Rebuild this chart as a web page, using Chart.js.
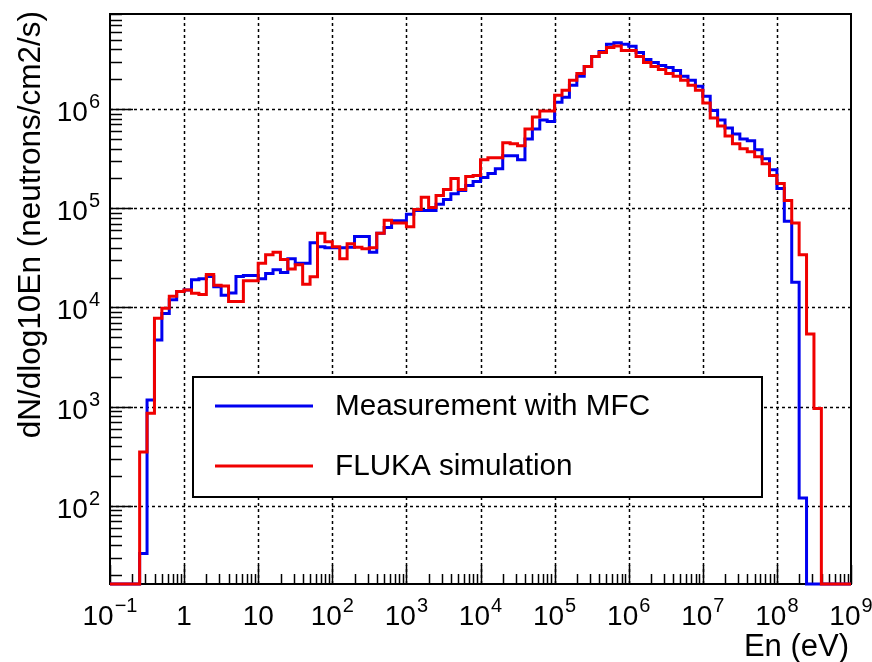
<!DOCTYPE html>
<html>
<head>
<meta charset="utf-8">
<script src="https://cdn.jsdelivr.net/npm/chart.js@4/dist/chart.umd.min.js"></script>
<style>
  html, body { margin: 0; padding: 0; background: #ffffff; }
  #wrap { width: 872px; height: 662px; }
</style>
</head>
<body>
<div id="wrap"><canvas id="c" width="872" height="662"></canvas></div>
<script>
// ---------------- Histogram definition ----------------
const BIN_LOG_MIN = -1;      // first bin low edge: 10^-1 eV
const BIN_LOG_WIDTH = 0.1;   // 10 bins per decade
const N_BINS = 100;          // up to 10^9 eV

// ---------------- Series values (dN/dlog10En, neutrons/cm2/s), one per bin ----------------
const MEASUREMENT_MFC = [
  0, 0, 0, 0, 33, 1170, 4700, 8700, 12000, 14500,
  15000, 19000, 19500, 20500, 16200, 13300, 14000, 20500, 21000, 21000,
  19500, 22000, 24000, 22500, 31000, 28000, 28000, 45000, 41000, 40000,
  40000, 40000, 40500, 52000, 52000, 36000, 56000, 64000, 75000, 75000,
  87000, 95000, 95000, 95000, 110000, 123000, 140000, 151000, 170000, 186000,
  204000, 224000, 251000, 339000, 339000, 309000, 500000, 630000, 776000, 750000,
  1170000, 1320000, 1740000, 2140000, 2690000, 3390000, 3800000, 4500000, 4680000, 4500000,
  4300000, 3720000, 3160000, 2950000, 2750000, 2630000, 2450000, 2140000, 1950000, 1700000,
  1350000, 970000, 776000, 646000, 562000, 500000, 479000, 389000, 316000, 245000,
  158000, 74000, 18000, 120, 0, 0, 0, 0, 0, 0
];
const FLUKA_SIMULATION = [
  0, 0, 0, 0, 350, 860, 7800, 9800, 13000, 14500,
  15000, 13900, 13500, 21500, 16800, 16500, 11500, 11500, 18600, 18600,
  28000, 34000, 36000, 30500, 24500, 27000, 17200, 20400, 56000, 46000,
  41000, 31000, 44000, 40500, 39000, 40000, 56000, 76000, 71000, 71000,
  65000, 97000, 129000, 102000, 135000, 155000, 200000, 155000, 209000, 214000,
  309000, 324000, 324000, 457000, 447000, 427000, 630000, 832000, 955000, 955000,
  1380000, 1550000, 1950000, 2290000, 2690000, 3390000, 3720000, 4170000, 4320000, 3890000,
  3890000, 3390000, 2950000, 2690000, 2510000, 2290000, 2140000, 1950000, 1740000, 1550000,
  1150000, 813000, 676000, 537000, 447000, 398000, 372000, 331000, 282000, 214000,
  178000, 120000, 71000, 34000, 5400, 960, 0, 0, 0, 0
];
const SERIES_NAMES = ['Measurement with MFC', 'FLUKA simulation'];

// ---------------- Axes ----------------
const X_MIN = 0.1, X_MAX = 1e9;
const Y_MIN = 16.3, Y_MAX = 9.1e6;
const X_TICK_EXPONENTS = [-1, 0, 1, 2, 3, 4, 5, 6, 7, 8, 9];
const X_TICK_LABELS = [['10', '\u22121'], ['1', ''], ['10', ''], ['10', '2'], ['10', '3'], ['10', '4'],
                       ['10', '5'], ['10', '6'], ['10', '7'], ['10', '8'], ['10', '9']];
const Y_TICK_EXPONENTS = [2, 3, 4, 5, 6];
const Y_TICK_LABELS = [['10', '2'], ['10', '3'], ['10', '4'], ['10', '5'], ['10', '6']];
const X_TITLE = 'En (eV)';
const Y_TITLE = 'dN/dlog10En (neutrons/cm2/s)';

// ---------------- Build step points (bin low edges + closing edge) ----------------
function buildSteps(values) {
  const pts = [];
  for (let k = 0; k < N_BINS; k++) {
    const edge = Math.pow(10, BIN_LOG_MIN + k * BIN_LOG_WIDTH);
    pts.push({ x: edge, y: values[k] > 0 ? values[k] : Y_MIN });
  }
  const last = values[N_BINS - 1];
  pts.push({ x: Math.pow(10, BIN_LOG_MIN + N_BINS * BIN_LOG_WIDTH), y: last > 0 ? last : Y_MIN });
  return pts;
}

const FONT = '"Liberation Sans", Arial, Helvetica, sans-serif';

function drawPower(ctx, base, exp, x, baseline, align, size) {
  const expSize = Math.round(size * 0.7);
  ctx.font = size + 'px ' + FONT;
  const wb = ctx.measureText(base).width;
  ctx.font = expSize + 'px ' + FONT;
  const we = exp ? ctx.measureText(exp).width + 1 : 0;
  const total = wb + we;
  let sx = x;
  if (align === 'center') sx = x - total / 2;
  else if (align === 'right') sx = x - total;
  ctx.textAlign = 'left';
  ctx.textBaseline = 'alphabetic';
  ctx.font = size + 'px ' + FONT;
  ctx.fillText(base, sx, baseline);
  if (exp) {
    ctx.font = expSize + 'px ' + FONT;
    ctx.fillText(exp, sx + wb + 1, baseline - Math.round(size * 0.45));
  }
}

const rootAxes = {
  id: 'rootAxes',
  beforeDatasetsDraw(chart) {
    const { ctx, chartArea, scales } = chart;
    const { left, right, top, bottom } = chartArea;
    const xs = scales.x, ys = scales.y;
    ctx.save();
    ctx.fillStyle = '#000';
    ctx.strokeStyle = '#000';

    // dotted grid at decades
    ctx.lineWidth = 1.5;
    ctx.setLineDash([3, 3]);
    X_TICK_EXPONENTS.forEach(e => {
      const px = Math.round(xs.getPixelForValue(Math.pow(10, e))) + 0.5;
      if (px <= left + 2 || px >= right - 2) return;
      ctx.beginPath(); ctx.moveTo(px, bottom); ctx.lineTo(px, top); ctx.stroke();
    });
    Y_TICK_EXPONENTS.forEach(e => {
      const py = Math.round(ys.getPixelForValue(Math.pow(10, e))) + 0.5;
      ctx.beginPath(); ctx.moveTo(left, py); ctx.lineTo(right, py); ctx.stroke();
    });
    ctx.setLineDash([]);

    // tick marks (inside the frame, ROOT style)
    ctx.lineWidth = 1.5;
    for (let d = -1; d <= 9; d++) {
      for (let m = 1; m <= 9; m++) {
        const v = m * Math.pow(10, d);
        if (v < X_MIN * 0.999 || v > X_MAX * 1.001) continue;
        const px = Math.round(xs.getPixelForValue(v)) + 0.5;
        const len = m === 1 ? 19 : 10;
        ctx.beginPath(); ctx.moveTo(px, bottom); ctx.lineTo(px, bottom - len); ctx.stroke();
      }
    }
    for (let d = 1; d <= 6; d++) {
      for (let m = 1; m <= 9; m++) {
        const v = m * Math.pow(10, d);
        if (v < Y_MIN || v > Y_MAX) continue;
        const py = Math.round(ys.getPixelForValue(v)) + 0.5;
        const len = m === 1 ? 23 : 12;
        ctx.beginPath(); ctx.moveTo(left, py); ctx.lineTo(left + len, py); ctx.stroke();
      }
    }

    // frame
    ctx.lineWidth = 2;
    ctx.strokeRect(left, top, right - left, bottom - top);

    // tick labels
    X_TICK_EXPONENTS.forEach((e, i) => {
      const px = xs.getPixelForValue(Math.pow(10, e));
      drawPower(ctx, X_TICK_LABELS[i][0], X_TICK_LABELS[i][1], px, bottom + 41, 'center', 28);
    });
    Y_TICK_EXPONENTS.forEach((e, i) => {
      const py = ys.getPixelForValue(Math.pow(10, e));
      drawPower(ctx, Y_TICK_LABELS[i][0], Y_TICK_LABELS[i][1], left - 10, py + 12, 'right', 28);
    });

    // axis titles
    ctx.font = '31px ' + FONT;
    ctx.textBaseline = 'alphabetic';
    ctx.textAlign = 'right';
    ctx.fillText(X_TITLE, right - 2, bottom + 72);
    ctx.font = '31.5px ' + FONT;
    ctx.save();
    ctx.translate(40, top - 3);
    ctx.rotate(-Math.PI / 2);
    ctx.textAlign = 'right';
    ctx.fillText(Y_TITLE, 0, 0);
    ctx.restore();

    ctx.restore();
  },
  afterDatasetsDraw(chart) {
    const { ctx } = chart;
    // legend box (ROOT TLegend style)
    const bx = 193, by = 377, bw = 569, bh = 120;
    ctx.save();
    ctx.fillStyle = '#fff';
    ctx.fillRect(bx, by, bw, bh);
    ctx.strokeStyle = '#000';
    ctx.lineWidth = 2;
    ctx.strokeRect(bx, by, bw, bh);
    const ds = chart.data.datasets;
    const rowsY = [by + 29, by + 89];
    ds.forEach((d, i) => {
      ctx.strokeStyle = d.borderColor;
      ctx.lineWidth = 3;
      ctx.beginPath(); ctx.moveTo(bx + 22, rowsY[i]); ctx.lineTo(bx + 120, rowsY[i]); ctx.stroke();
      ctx.fillStyle = '#000';
      ctx.font = '29.7px ' + FONT;
      ctx.textAlign = 'left';
      ctx.textBaseline = 'middle';
      ctx.fillText(d.label, bx + 142, rowsY[i] + 1);
    });
    ctx.restore();
  }
};

new Chart(document.getElementById('c'), {
  type: 'line',
  data: {
    datasets: [
      { label: SERIES_NAMES[0], data: buildSteps(MEASUREMENT_MFC), borderColor: '#0000f0',
        borderWidth: 3, pointRadius: 0, stepped: 'before', fill: false, order: 1, clip: 8 },
      { label: SERIES_NAMES[1], data: buildSteps(FLUKA_SIMULATION), borderColor: '#f00000',
        borderWidth: 3, pointRadius: 0, stepped: 'before', fill: false, order: 0, clip: 8 }
    ]
  },
  options: {
    responsive: false,
    animation: false,
    devicePixelRatio: 1,
    layout: { padding: { left: 110, right: 21, top: 14, bottom: 78 } },
    plugins: { legend: { display: false }, tooltip: { enabled: false } },
    scales: {
      x: { type: 'logarithmic', min: X_MIN, max: X_MAX, display: false },
      y: { type: 'logarithmic', min: Y_MIN, max: Y_MAX, display: false }
    }
  },
  plugins: [rootAxes]
});
</script>
</body>
</html>
